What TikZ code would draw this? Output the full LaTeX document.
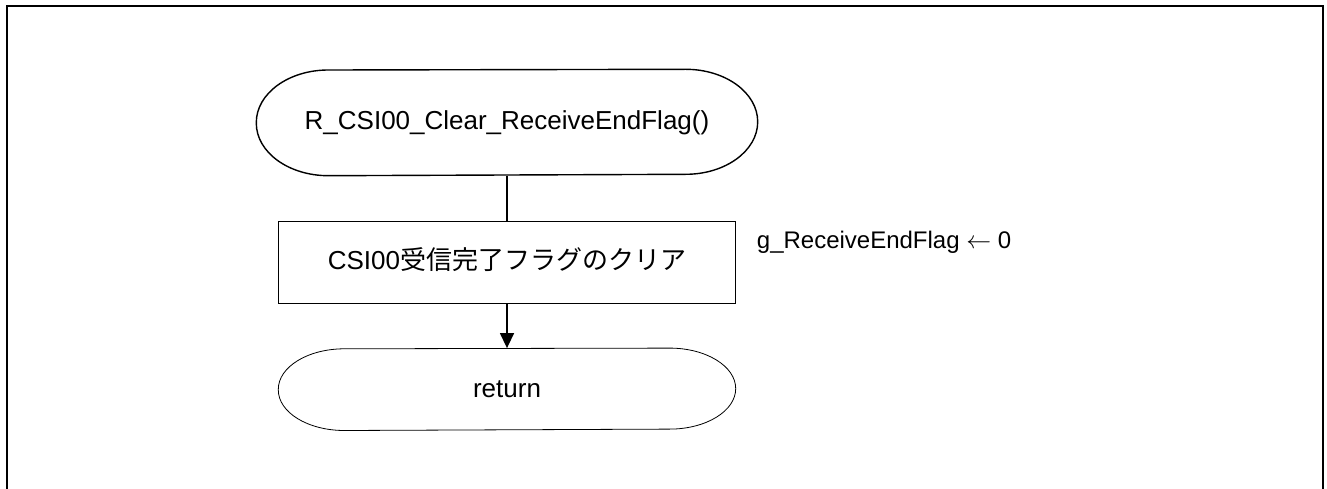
\documentclass[tikz,border=0pt]{standalone}
\usepackage{fontspec}
\setmainfont{Liberation Sans}
\newfontfamily\jpfont{Noto Sans CJK JP}
\usetikzlibrary{positioning,arrows.meta}
\tikzset{
flow/.style={
    x=1pt,
    y=-1pt,
    node distance=45pt,
    line width=1.4pt
},
term/.style={
    inner sep=0pt,
    font=\fontsize{26}{30}\selectfont
},
proc/.style={
    draw,
    rectangle,
    inner sep=0pt,
    minimum width=457pt,
    minimum height=82pt,
    font=\fontsize{26}{30}\selectfont
},
note/.style={
    inner sep=0pt,
    font=\fontsize{24}{28}\selectfont
},
goes/.style={
    -{Triangle[width=14pt,length=15pt]}
}}
% rounded ends of a terminal: node, x radius, y radius, line width
\newcommand{\termline}[4]{%
  \draw[line width=#4] (#1.west)
    arc[start angle=180, end angle=90, x radius=#2, y radius=#3]
    -- ([xshift=-#2]#1.north east)
    arc[start angle=90, end angle=-90, x radius=#2, y radius=#3]
    -- ([xshift=#2]#1.south west)
    arc[start angle=270, end angle=180, x radius=#2, y radius=#3] -- cycle;}

\begin{document}
\begin{tikzpicture}[flow]
\useasboundingbox (0,0) rectangle (1327,489);
\draw[line width=2pt] (7,489) -- (7,6) -- (1323,6) -- (1323,489);

\node[term, minimum width=500pt, minimum height=105pt]  (start)  at (507,122.5)  {\raisebox{5pt}{R\_CSI00\_Clear\_ReceiveEndFlag()}};
\node[proc]  (clr)  [below=of start]  {\raisebox{7pt}{CSI00{\jpfont 受信完了フラグのクリア}}};
\node[term, minimum width=456pt, minimum height=81pt]  (ret)  [below=44pt of clr]  {\raisebox{-3pt}{return}};
\node[note, anchor=base west]  (flag)  at ([xshift=20pt,yshift=14.3pt]clr.east)  {g\_ReceiveEndFlag $\leftarrow$ 0};

\termline{start}{72pt}{52.5pt}{1.4pt}
\termline{ret}{66pt}{40.5pt}{0.8pt}

\draw (start) -- (clr);
\draw[goes] (clr) -- (ret);
\end{tikzpicture}
\end{document}
